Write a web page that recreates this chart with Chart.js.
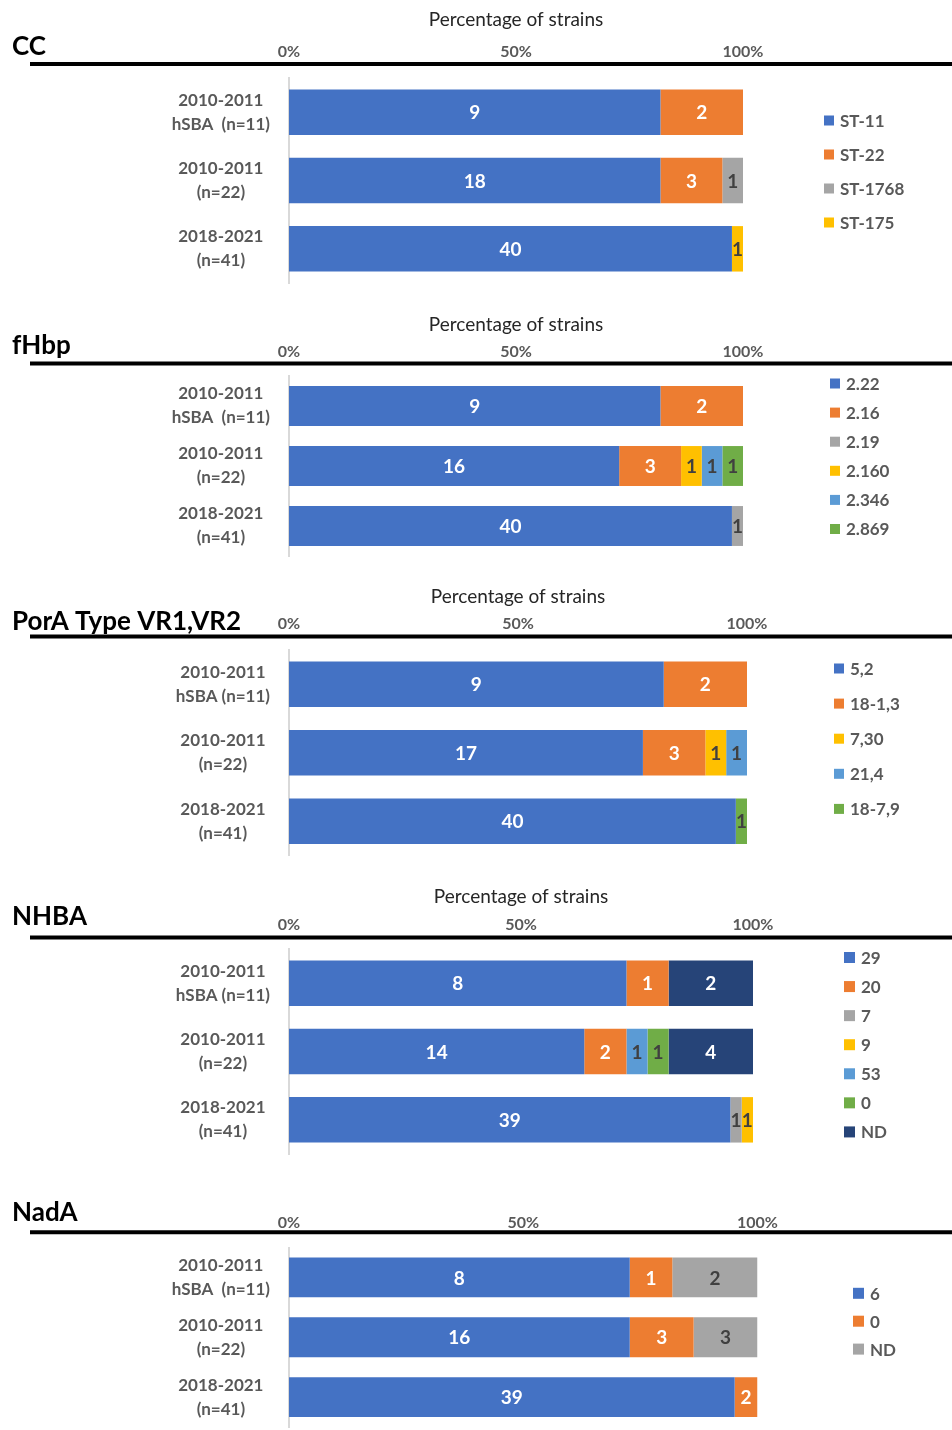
<!DOCTYPE html>
<html>
<head>
<meta charset="utf-8">
<title>Strain characterisation</title>
<script src="https://cdn.jsdelivr.net/npm/chart.js@4.4.1/dist/chart.umd.min.js"></script>
<style>
  html, body { margin: 0; padding: 0; background: #fff; }
  #page { position: relative; width: 952px; height: 1430px; overflow: hidden; }
  #page canvas { position: absolute; left: 0; }
</style>
</head>
<body>
<div id="page"></div>
<script>
// ---- data (counts of strains per cohort) ----
const xTicks = [0, 50, 100];
const axisTitle = 'Percentage of strains';

const ccCategories = [['2010-2011', 'hSBA  (n=11)'], ['2010-2011', '(n=22)'], ['2018-2021', '(n=41)']];
const ccSeries = ['ST-11', 'ST-22', 'ST-1768', 'ST-175'];
const ccCounts = [[9, 18, 40], [2, 3, 0], [0, 1, 0], [0, 0, 1]];

const fhbpCategories = [['2010-2011', 'hSBA  (n=11)'], ['2010-2011', '(n=22)'], ['2018-2021', '(n=41)']];
const fhbpSeries = ['2.22', '2.16', '2.19', '2.160', '2.346', '2.869'];
const fhbpCounts = [[9, 16, 40], [2, 3, 0], [0, 0, 1], [0, 1, 0], [0, 1, 0], [0, 1, 0]];

const poraCategories = [['2010-2011', 'hSBA (n=11)'], ['2010-2011', '(n=22)'], ['2018-2021', '(n=41)']];
const poraSeries = ['5,2', '18-1,3', '7,30', '21,4', '18-7,9'];
const poraCounts = [[9, 17, 40], [2, 3, 0], [0, 1, 0], [0, 1, 0], [0, 0, 1]];

const nhbaCategories = [['2010-2011', 'hSBA (n=11)'], ['2010-2011', '(n=22)'], ['2018-2021', '(n=41)']];
const nhbaSeries = ['29', '20', '7', '9', '53', '0', 'ND'];
const nhbaCounts = [[8, 14, 39], [1, 2, 0], [0, 0, 1], [0, 0, 1], [0, 1, 0], [0, 1, 0], [2, 4, 0]];

const nadaCategories = [['2010-2011', 'hSBA  (n=11)'], ['2010-2011', '(n=22)'], ['2018-2021', '(n=41)']];
const nadaSeries = ['6', '0', 'ND'];
const nadaCounts = [[8, 16, 39], [1, 3, 2], [2, 3, 0]];

// ---- styles ----
const BLUE = '#4472C4', ORANGE = '#ED7D31', GRAY = '#A5A5A5', GOLD = '#FFC000',
      LBLUE = '#5B9BD5', GREEN = '#70AD47', NAVY = '#264478';
const darkText = [GRAY, GOLD, LBLUE, GREEN];
const FONT = 'Lato, "Open Sans", sans-serif';

const panels = [
  { head: 'CC', categories: ccCategories, series: ccSeries, counts: ccCounts,
    colors: [BLUE, ORANGE, GRAY, GOLD], showTitle: true,
    top: 0, height: 292, chartTop: 78, chartBottom: 283, chartRight: 743,
    titleY: 20, tickY: 52, ruleY: 64, headY: 55,
    legX: 824, legY: 120.5, legStep: 34, legBox: 10 },
  { head: 'fHbp', categories: fhbpCategories, series: fhbpSeries, counts: fhbpCounts,
    colors: [BLUE, ORANGE, GRAY, GOLD, LBLUE, GREEN], showTitle: true,
    top: 292, height: 276, chartTop: 376, chartBottom: 556, chartRight: 743,
    titleY: 325, tickY: 352, ruleY: 363.5, headY: 354,
    legX: 830, legY: 383.5, legStep: 29.1, legBox: 10 },
  { head: 'PorA Type VR1,VR2', categories: poraCategories, series: poraSeries, counts: poraCounts,
    colors: [BLUE, ORANGE, GOLD, LBLUE, GREEN], showTitle: true,
    top: 568, height: 294, chartTop: 650, chartBottom: 855.5, chartRight: 747,
    titleY: 597, tickY: 624, ruleY: 636.5, headY: 630,
    legX: 834, legY: 668.5, legStep: 35.1, legBox: 10 },
  { head: 'NHBA', categories: nhbaCategories, series: nhbaSeries, counts: nhbaCounts,
    colors: [BLUE, ORANGE, GRAY, GOLD, LBLUE, GREEN, NAVY], showTitle: true,
    top: 862, height: 300, chartTop: 949, chartBottom: 1154, chartRight: 753,
    titleY: 896.5, tickY: 924.5, ruleY: 937.5, headY: 925,
    legX: 844, legY: 957.5, legStep: 29.07, legBox: 11 },
  { head: 'NadA', categories: nadaCategories, series: nadaSeries, counts: nadaCounts,
    colors: [BLUE, ORANGE, GRAY], showTitle: false,
    top: 1162, height: 268, chartTop: 1247.5, chartBottom: 1427, chartRight: 757.5,
    titleY: 1190, tickY: 1223.3, ruleY: 1232.3, headY: 1221,
    legX: 853, legY: 1293.3, legStep: 27.9, legBox: 11 }
];

// segment counts, heading, thick rule and legend
const decorPlugin = {
  id: 'decor',
  afterDraw(chart, args, opts) {
    const ctx = chart.ctx;
    const p = opts.panel;
    ctx.save();

    // thick rule under the percentage ticks
    ctx.strokeStyle = '#000';
    ctx.lineWidth = 4;
    ctx.beginPath();
    ctx.moveTo(30, p.ruleY - p.top);
    ctx.lineTo(chart.width, p.ruleY - p.top);
    ctx.stroke();

    // panel heading
    ctx.fillStyle = '#000';
    ctx.font = 'bold 26px ' + FONT;
    ctx.textAlign = 'left';
    ctx.textBaseline = 'alphabetic';
    ctx.fillText(p.head, 12, p.headY - p.top);

    // counts in the segments
    ctx.font = 'bold 19px ' + FONT;
    ctx.textAlign = 'center';
    ctx.textBaseline = 'middle';
    chart.data.datasets.forEach((ds, i) => {
      const meta = chart.getDatasetMeta(i);
      meta.data.forEach((bar, j) => {
        const n = ds.counts[j];
        if (!n) return;
        const { x, y, base } = bar.getProps(['x', 'y', 'base'], true);
        ctx.fillStyle = darkText.includes(ds.backgroundColor) ? '#404040' : '#fff';
        ctx.fillText(String(n), (x + base) / 2, y + 1);
      });
    });

    // legend
    ctx.font = 'bold 17px ' + FONT;
    ctx.textAlign = 'left';
    chart.data.datasets.forEach((ds, i) => {
      const cy = p.legY - p.top + i * p.legStep;
      ctx.fillStyle = ds.backgroundColor;
      ctx.fillRect(p.legX, cy - p.legBox / 2, p.legBox, p.legBox);
      ctx.fillStyle = '#595959';
      ctx.fillText(ds.label, p.legX + p.legBox + 6, cy + 1);
    });
    ctx.restore();
  }
};

const page = document.getElementById('page');

panels.forEach(p => {
  const canvas = document.createElement('canvas');
  canvas.width = 952;
  canvas.height = p.height;
  canvas.style.top = p.top + 'px';
  canvas.style.width = '952px';
  canvas.style.height = p.height + 'px';
  page.appendChild(canvas);

  const totals = p.categories.map((_, j) => p.counts.reduce((s, row) => s + row[j], 0));

  const datasets = p.series.map((name, i) => ({
    label: name,
    counts: p.counts[i],
    data: p.counts[i].map((v, j) => v / totals[j] * 100),
    backgroundColor: p.colors[i],
    borderWidth: 0,
    barPercentage: 0.665,
    categoryPercentage: 1
  }));

  new Chart(canvas, {
    type: 'bar',
    data: { labels: p.categories, datasets },
    options: {
      indexAxis: 'y',
      responsive: false,
      animation: false,
      events: [],
      layout: {
        padding: { top: 0, left: 0, right: 952 - p.chartRight, bottom: p.top + p.height - p.chartBottom }
      },
      scales: {
        x: {
          position: 'top',
          stacked: true,
          min: 0,
          max: 100,
          grid: { display: false, drawTicks: false },
          border: { display: false },
          afterBuildTicks: s => { s.ticks = xTicks.map(v => ({ value: v })); },
          ticks: {
            padding: p.chartTop - p.tickY - 9.6,
            color: '#595959',
            maxRotation: 0,
            autoSkip: false,
            font: { family: FONT, size: 16, weight: 'bold' },
            callback: v => v + '%'
          },
          title: {
            display: p.showTitle,
            text: axisTitle,
            color: '#262626',
            font: { family: FONT, size: 19 },
            padding: { top: p.titleY - p.top - 11.4, bottom: 0 }
          },
          afterFit: s => { s.height = p.chartTop - p.top; s.paddingLeft = 0; s.paddingRight = 0; }
        },
        y: {
          stacked: true,
          grid: { display: false, drawTicks: false },
          border: { display: true, color: '#D9D9D9', width: 2 },
          ticks: {
            padding: 19,
            autoSkip: false,
            crossAlign: 'center',
            color: '#595959',
            font: { family: FONT, size: 17, weight: 'bold', lineHeight: 24 / 17 }
          },
          afterFit: s => { s.width = 289; s.paddingTop = 0; s.paddingBottom = 0; }
        }
      },
      plugins: {
        legend: { display: false },
        tooltip: { enabled: false },
        decor: { panel: p }
      }
    },
    plugins: [decorPlugin]
  });
});
</script>
</body>
</html>
